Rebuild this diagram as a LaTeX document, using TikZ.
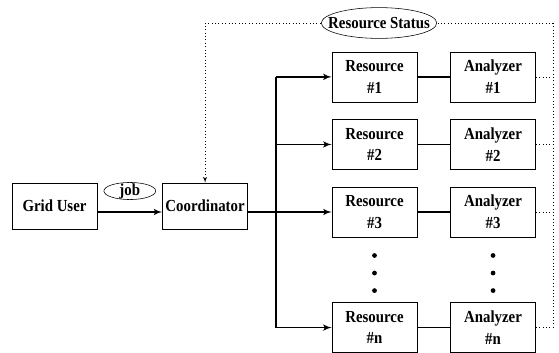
\documentclass[tikz,border=0pt]{standalone}
\usepackage{fontspec}
\setmainfont{Liberation Serif}[FakeStretch=0.88]
\usetikzlibrary{shapes, arrows, positioning, calc}

\begin{document}
\begin{tikzpicture}[>=latex', font=\bfseries\fontsize{12}{15.5}\selectfont,
    box/.style={draw, thin, minimum width=2.125cm, minimum height=1.25cm, align=center, inner sep=1pt},
    tag/.style={draw, ellipse, thin, fill=white, solid},
    link/.style={line width=1.1pt},
    stat/.style={dotted, thin}]
    \useasboundingbox (0,0) rectangle (13.975,-8.8);

    \node[box, minimum height=1.15cm] (user) at (1.3625,-5.15) {Grid User};
    \node[box, minimum height=1.15cm, right=1.625cm of user] (coord) {Coordinator};

    \node[box] (res3) at (9.3625,-5.3) {Resource\\\#3};
    \node[box, above=0.425cm of res3] (res2) {Resource\\\#2};
    \node[box, above=0.425cm of res2] (res1) {Resource\\\#1};
    \node[box, below=1.625cm of res3] (resn) {Resource\\\#n};

    \node[box, right=0.825cm of res1] (ana1) {Analyzer\\\#1};
    \node[box, right=0.825cm of res2] (ana2) {Analyzer\\\#2};
    \node[box, right=0.825cm of res3] (ana3) {Analyzer\\\#3};
    \node[box, right=0.825cm of resn] (anan) {Analyzer\\\#n};

    % more resources
    \foreach \t in {0.28,0.55,0.82} {
        \fill ($(res3.south)!\t!(resn.north)$) circle (1.7pt);
        \fill ($(ana3.south)!\t!(anan.north)$) circle (1.7pt);
    }

    % job submission
    \draw[link,->] ([yshift=-0.15cm]user.east) -- node[tag, midway, yshift=0.525cm, inner xsep=0.2cm, inner ysep=-0.04cm] {job} ([yshift=-0.15cm]coord.west);

    % dispatch bus
    \coordinate (bus) at ($(coord.east)+(0.7,-0.15)$);
    \draw[link] ([yshift=-0.15cm]coord.east) -- (bus);
    \draw[link] (bus |- res1) -- (bus |- resn);
    \foreach \k in {1,2,3,n} {
        \draw[link,->] (bus |- res\k) -- (res\k.west);
        \draw[link] (res\k.east) -- (ana\k.west);
    }

    % status feedback
    \coordinate (corner) at (13.825,-0.575);
    \draw[stat] (corner) -- (corner |- anan);
    \foreach \k in {1,2,3,n}
        \draw[stat] (ana\k.east) -- (corner |- ana\k);
    \draw[stat,->] (corner) -- node[tag, midway, inner xsep=-0.25cm, inner ysep=0.13cm] {Resource Status} (coord |- corner) -- (coord.north);
\end{tikzpicture}
\end{document}
